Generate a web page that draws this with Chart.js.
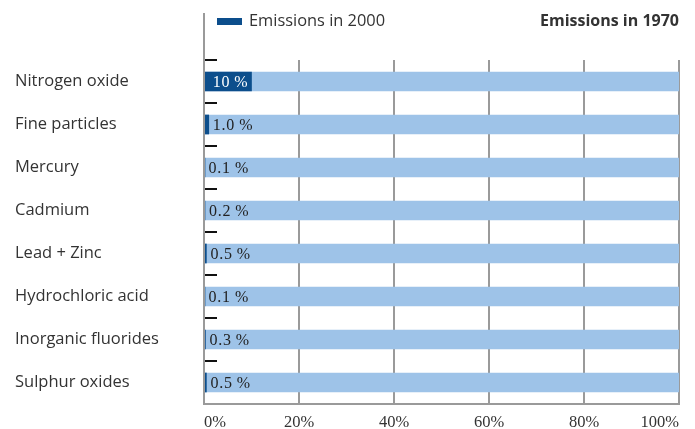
<!DOCTYPE html>
<html>
<head>
<meta charset="utf-8">
<script src="https://cdn.jsdelivr.net/npm/chart.js@4"></script>
<style>
  html, body { margin: 0; padding: 0; background: #fff; }
  #wrap { width: 695px; height: 429px; }
</style>
</head>
<body>
<div id="wrap"><canvas id="myChart"></canvas></div>
<script>
const categories = [
  "Nitrogen oxide",
  "Fine particles",
  "Mercury",
  "Cadmium",
  "Lead + Zinc",
  "Hydrochloric acid",
  "Inorganic fluorides",
  "Sulphur oxides",
];
const values2000 = [10, 1.0, 0.1, 0.2, 0.5, 0.1, 0.3, 0.5];
const values1970 = [100, 100, 100, 100, 100, 100, 100, 100];
const valueLabels = ["10\u2009%", "1.0\u2009%", "0.1\u2009%", "0.2\u2009%", "0.5\u2009%", "0.1\u2009%", "0.3\u2009%", "0.5\u2009%"];
const xTickLabels = ["0%", "20%", "40%", "60%", "80%", "100%"];
const seriesNames = ["Emissions in 2000", "Emissions in 1970"];

const darkBlue = "#0c4e8c";
const lightBlue = "#9ec3e8";
const gridGray = "#9a9a9a";

// legend, value labels and the short black ticks
const overlay = {
  id: "overlay",
  afterDatasetsDraw(chart) {
    const { ctx, scales: { x, y } } = chart;
    ctx.save();
    ctx.textBaseline = "middle";
    ctx.font = "16px 'Liberation Serif'";
    ctx.letterSpacing = "0.8px";
    values2000.forEach((v, i) => {
      const yy = y.getPixelForValue(i) + 1;
      const xEnd = x.getPixelForValue(v);
      if (v >= 5) {
        ctx.fillStyle = "#fff";
        ctx.textAlign = "right";
        ctx.fillText(valueLabels[i], xEnd - 3, yy);
      } else {
        ctx.fillStyle = "#222";
        ctx.textAlign = "left";
        ctx.fillText(valueLabels[i], Math.max(xEnd, x.left) + 4, yy);
      }
    });
    ctx.letterSpacing = "0px";

    // ticks at category boundaries
    const half = (y.getPixelForValue(1) - y.getPixelForValue(0)) / 2;
    ctx.strokeStyle = "#111";
    ctx.lineWidth = 2;
    categories.forEach((c, i) => {
      const yb = Math.round(y.getPixelForValue(i) - half);
      ctx.beginPath();
      ctx.moveTo(x.left, yb);
      ctx.lineTo(x.left + 13, yb);
      ctx.stroke();
    });

    // extended left axis line
    ctx.strokeStyle = gridGray;
    ctx.lineWidth = 2;
    ctx.beginPath();
    ctx.moveTo(x.left, 13);
    ctx.lineTo(x.left, y.bottom);
    ctx.stroke();

    // legend
    ctx.fillStyle = darkBlue;
    ctx.fillRect(x.left + 13, 18, 25, 7);
    ctx.fillStyle = "#333";
    ctx.textAlign = "left";
    ctx.font = "16.4px 'Open Sans'";
    ctx.fillText(seriesNames[0], x.left + 45, 21);
    ctx.textAlign = "right";
    ctx.font = "bold 16px 'Open Sans'";
    ctx.fillText(seriesNames[1], x.right, 21);
    ctx.restore();
  },
};

new Chart("myChart", {
  type: "bar",
  data: {
    labels: categories,
    datasets: [
      {
        label: seriesNames[0],
        data: values2000,
        backgroundColor: darkBlue,
        barThickness: 19,
        grouped: false,
      },
      {
        label: seriesNames[1],
        data: values1970,
        backgroundColor: lightBlue,
        barThickness: 19,
        grouped: false,
      },
    ],
  },
  options: {
    indexAxis: "y",
    responsive: true,
    maintainAspectRatio: false,
    animation: false,
    layout: { padding: { left: 15, top: 60, right: 16, bottom: 0 } },
    plugins: {
      legend: { display: false },
      tooltip: { enabled: false },
    },
    scales: {
      x: {
        min: 0,
        max: 100,
        ticks: {
          stepSize: 20,
          align: "inner",
          padding: 9,
          color: "#333",
          font: { family: "Liberation Serif", size: 16.5 },
          callback: (v) => xTickLabels[v / 20],
        },
        grid: { color: gridGray, lineWidth: 2, drawTicks: false },
        border: { display: true, color: gridGray, width: 2 },
        afterFit: (scale) => { scale.height = 25; },
      },
      y: {
        ticks: {
          crossAlign: "far",
          color: "#333",
          font: { family: "Open Sans", size: 16.5 },
        },
        grid: { display: false },
        border: { display: false },
        afterFit: (scale) => { scale.width = 189; },
      },
    },
  },
  plugins: [overlay],
});
</script>
</body>
</html>
